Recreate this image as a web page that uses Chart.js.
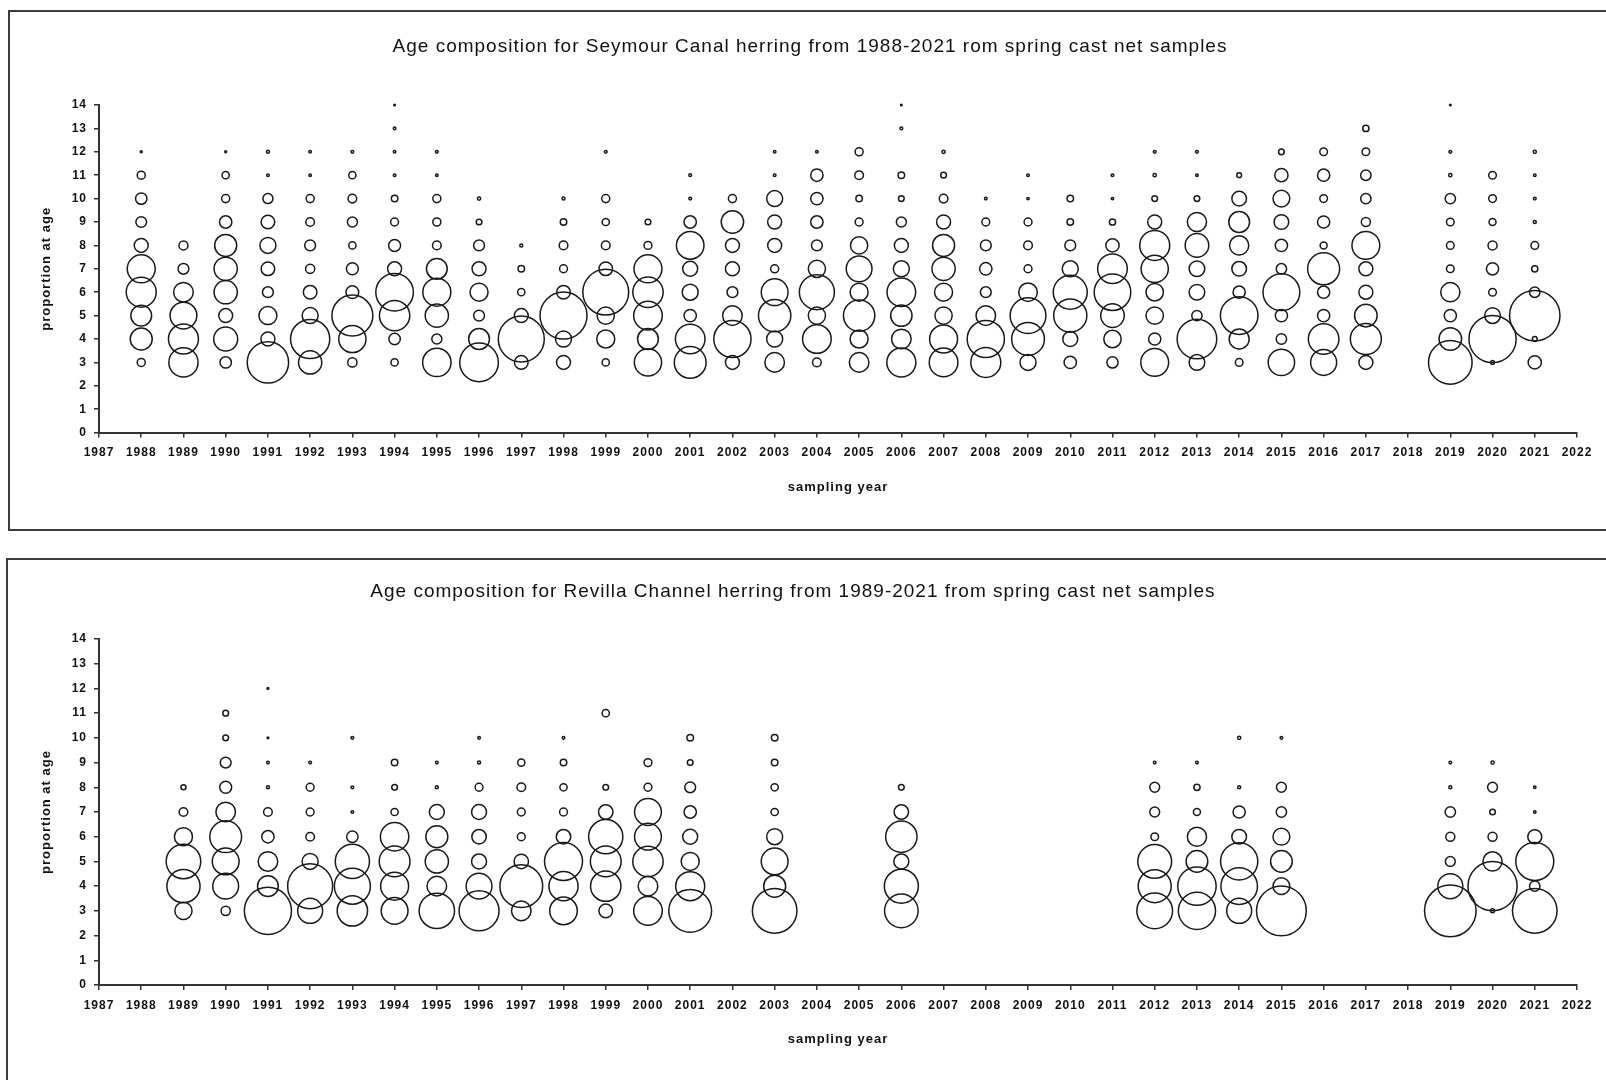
<!DOCTYPE html>
<html lang="en">
<head>
<meta charset="UTF-8">
<title>Age composition - Seymour Canal and Revilla Channel herring</title>
<script src="https://cdn.jsdelivr.net/npm/chart.js"></script>
<style>
    html, body { margin: 0; padding: 0; background: #fff; width: 1606px; height: 1080px; overflow: hidden; }
    .frame { position: absolute; border: 2px solid #3c3c3c; border-right: none; }
    #frameTop { left: 8px; top: 10px; width: 1620px; height: 517px; }
    #frameBottom { left: 6px; top: 558px; width: 1620px; height: 600px; }
    .titulo { position: absolute; width: 1200px; text-align: center; color: #111;
              font: 19px "Liberation Sans", Arial, sans-serif; letter-spacing: 1px; line-height: 22px; }
    canvas { position: absolute; left: 0; }
</style>
</head>
<body>
    <div class="frame" id="frameTop"></div>
    <div class="frame" id="frameBottom"></div>

    <canvas id="chartSeymour" width="1606" height="545" style="top:0px"></canvas>
    <canvas id="chartRevilla" width="1606" height="535" style="top:545px"></canvas>

    <div class="titulo" style="left:210px; top:35px">Age composition for Seymour Canal herring from 1988-2021 rom spring cast net samples</div>
    <div class="titulo" style="left:193px; top:580px">Age composition for Revilla Channel herring from 1989-2021 from spring cast net samples</div>

<script>
    // ages on the y axis, one column per age in the tables below
    const ages = [3, 4, 5, 6, 7, 8, 9, 10, 11, 12, 13, 14];
    const yearTicks = [1987, 2022];

    // Seymour Canal: proportion at age (%) per sampling year
    const seymourYears = [1988, 1989, 1990, 1991, 1992, 1993, 1994, 1995, 1996, 1997, 1998, 1999, 2000,
        2001, 2002, 2003, 2004, 2005, 2006, 2007, 2008, 2009, 2010, 2011, 2012, 2013, 2014, 2015, 2016,
        2017, 2019, 2020, 2021];
    const seymourProps = [
        [1.97, 14.9, 13.3, 27.7, 24.1, 6.0, 3.5, 4.0, 2.0, 0.12, 0, 0],
        [26.2, 27.7, 22.1, 11.8, 3.6, 2.5, 0, 0, 0, 0, 0, 0],
        [4.0, 17.7, 6.0, 16.6, 16.6, 14.9, 4.7, 2.0, 1.6, 0.12, 0, 0],
        [52.7, 6.0, 10.0, 3.6, 5.7, 7.9, 5.7, 3.1, 0.21, 0.28, 0, 0],
        [16.6, 47.3, 7.9, 5.7, 2.6, 3.6, 2.3, 2.0, 0.18, 0.21, 0, 0],
        [2.6, 22.8, 51.7, 5.0, 4.4, 1.6, 3.1, 2.3, 1.6, 0.24, 0, 0],
        [1.6, 4.0, 28.4, 43.5, 6.0, 4.4, 1.9, 1.3, 0.21, 0.21, 0.21, 0.08],
        [24.8, 3.1, 16.6, 24.1, 13.3, 2.3, 2.0, 2.0, 0.18, 0.24, 0, 0],
        [45.9, 13.3, 3.6, 10.0, 6.0, 3.6, 1.0, 0.32, 0, 0, 0, 0],
        [5.7, 65.1, 6.0, 1.6, 1.3, 0.28, 0, 0, 0, 0, 0, 0],
        [6.0, 7.9, 68.0, 5.7, 1.9, 2.3, 1.3, 0.28, 0, 0, 0, 0],
        [1.6, 10.0, 9.1, 64.6, 5.7, 2.3, 1.6, 2.0, 0, 0.24, 0, 0],
        [22.8, 13.3, 25.2, 28.4, 24.1, 1.9, 1.0, 0, 0, 0, 0, 0],
        [31.1, 27.0, 4.7, 7.9, 6.9, 23.4, 4.7, 0.24, 0.24, 0, 0, 0],
        [6.0, 42.6, 11.8, 3.6, 6.0, 6.0, 15.4, 2.0, 0, 0, 0, 0],
        [11.8, 7.9, 32.3, 22.1, 2.0, 6.0, 6.0, 7.9, 0.21, 0.21, 0, 0],
        [2.3, 25.2, 9.1, 37.7, 9.1, 3.6, 4.7, 4.7, 4.7, 0.21, 0, 0],
        [11.8, 10.0, 30.3, 10.0, 20.5, 9.1, 1.9, 1.3, 2.3, 2.0, 0, 0],
        [25.9, 11.8, 14.1, 25.2, 7.9, 6.0, 3.1, 1.0, 1.3, 0, 0.24, 0.08],
        [25.2, 24.1, 9.1, 10.0, 16.6, 14.9, 6.0, 2.3, 1.0, 0.32, 0, 0],
        [27.7, 42.6, 11.8, 3.6, 4.7, 3.6, 1.9, 0.21, 0, 0, 0, 0],
        [7.9, 33.1, 39.4, 10.6, 1.9, 2.3, 1.9, 0.18, 0.21, 0, 0, 0],
        [4.7, 6.9, 33.9, 35.6, 7.9, 3.6, 1.3, 1.3, 0, 0, 0, 0],
        [3.9, 9.3, 17.1, 41.2, 27.0, 5.4, 1.2, 0.18, 0.21, 0, 0, 0],
        [23.8, 4.6, 9.3, 9.3, 22.8, 27.7, 6.0, 1.0, 0.32, 0.24, 0, 0],
        [7.5, 48.3, 3.3, 7.5, 7.5, 17.1, 11.3, 1.0, 0.18, 0.24, 0, 0],
        [1.8, 12.3, 43.5, 4.6, 6.6, 11.3, 13.3, 6.6, 0.71, 0, 0, 0],
        [21.4, 3.3, 4.6, 41.7, 3.3, 4.6, 6.6, 8.7, 5.4, 1.0, 0, 0],
        [20.8, 28.8, 4.6, 4.6, 31.5, 1.5, 4.6, 1.8, 4.6, 1.8, 0, 0],
        [6.0, 29.6, 15.7, 6.0, 6.0, 23.8, 2.5, 3.3, 3.3, 1.8, 1.2, 0],
        [58.5, 15.7, 4.6, 11.3, 1.8, 1.8, 1.8, 3.3, 0.32, 0.24, 0, 0.08],
        [0.40, 68.6, 7.5, 1.8, 4.6, 2.5, 1.5, 1.8, 1.8, 0, 0, 0],
        [5.4, 0.71, 78.2, 3.3, 1.2, 1.8, 0.28, 0.24, 0.21, 0.32, 0, 0]
    ];

    // Revilla Channel: proportion at age (%) per sampling year
    const revillaYears = [1989, 1990, 1991, 1992, 1993, 1994, 1995, 1996, 1997, 1998, 1999, 2000, 2001,
        2003, 2006, 2012, 2013, 2014, 2015, 2019, 2020, 2021];
    const revillaProps = [
        [9.1, 33.9, 36.8, 10.0, 2.3, 0.77, 0, 0, 0, 0, 0, 0],
        [2.6, 20.5, 22.1, 31.1, 11.8, 4.4, 3.6, 1.0, 1.0, 0, 0, 0],
        [68.6, 13.3, 11.8, 4.7, 2.3, 0.28, 0.21, 0.10, 0, 0.10, 0, 0],
        [19.2, 62.3, 7.9, 2.3, 1.9, 1.9, 0.24, 0, 0, 0, 0, 0],
        [28.4, 39.9, 36.0, 4.0, 0.21, 0.24, 0, 0.24, 0, 0, 0, 0],
        [22.1, 24.1, 29.2, 24.8, 1.6, 1.0, 1.3, 0, 0, 0, 0, 0],
        [38.6, 11.8, 16.6, 14.9, 6.9, 0.28, 0.21, 0, 0, 0, 0, 0],
        [49.2, 20.5, 6.9, 6.4, 6.9, 1.9, 0.28, 0.21, 0, 0, 0, 0],
        [11.8, 56.4, 6.4, 1.9, 1.9, 2.3, 1.6, 0, 0, 0, 0, 0],
        [23.4, 26.2, 44.4, 6.4, 1.9, 1.6, 1.3, 0.21, 0, 0, 0, 0],
        [5.7, 28.4, 29.2, 36.0, 6.4, 1.0, 0, 0, 1.6, 0, 0, 0],
        [25.2, 11.8, 28.4, 22.1, 22.1, 1.9, 1.9, 0, 0, 0, 0, 0],
        [56.4, 25.9, 10.0, 6.9, 4.7, 3.6, 1.0, 1.3, 0, 0, 0, 0],
        [61.2, 14.9, 22.1, 7.9, 1.6, 1.6, 1.3, 1.3, 0, 0, 0, 0],
        [34.7, 35.6, 6.9, 30.3, 6.4, 1.0, 0, 0, 0, 0, 0, 0],
        [39.4, 33.5, 35.2, 1.8, 3.0, 3.0, 0.21, 0, 0, 0, 0, 0],
        [42.6, 45.4, 14.4, 11.3, 1.5, 1.2, 0.21, 0, 0, 0, 0, 0],
        [19.2, 41.2, 42.6, 6.6, 4.6, 0.28, 0, 0.32, 0, 0, 0, 0],
        [76.3, 8.7, 14.4, 8.7, 3.3, 3.0, 0, 0.21, 0, 0, 0, 0],
        [81.9, 19.2, 3.0, 2.5, 3.3, 0.28, 0.21, 0, 0, 0, 0, 0],
        [0.49, 74.5, 11.3, 2.5, 1.0, 3.0, 0.32, 0, 0, 0, 0, 0],
        [61.2, 3.3, 44.4, 6.0, 0.18, 0.18, 0, 0, 0, 0, 0, 0]
    ];
</script>

<script>
    Chart.defaults.font.family = '"Liberation Sans", Arial, sans-serif';
    Chart.defaults.color = '#111';

    // bubble area follows the proportion (like the Excel original)
    function bubbleRadius(p) {
        return 28.5 * Math.sqrt(p / 100);
    }

    function montarPontos(years, props) {
        let pontos = [];
        for (let i = 0; i < years.length; i++) {
            for (let j = 0; j < ages.length; j++) {
                let p = props[i][j];
                if (p > 0) {
                    pontos.push({ x: years[i], y: ages[j], r: bubbleRadius(p) });
                }
            }
        }
        return pontos;
    }

    // the old bitmap font is wide, so open up the letters a bit
    const espacamento = {
        id: 'espacamento',
        beforeLayout(chart) { chart.ctx.letterSpacing = '1px'; },
        beforeDraw(chart) { chart.ctx.letterSpacing = '1px'; }
    };

    function criarGrafico(canvasId, years, props, padTop, padBottom) {
        const eixo = {
            border: { display: true, color: '#333', width: 2 },
            grid: { display: true, drawOnChartArea: false, drawTicks: true, tickLength: 5, color: '#333', lineWidth: 1.5 }
        };

        const config = {
            type: 'bubble',
            data: {
                datasets: [{
                    data: montarPontos(years, props),
                    borderColor: '#1a1a1a',
                    backgroundColor: 'rgba(0,0,0,0)',
                    borderWidth: 1.5,
                    hoverRadius: 0,
                    clip: false
                }]
            },
            options: {
                responsive: false,
                animation: false,
                events: [],
                layout: { padding: { left: 0, right: 29, top: padTop, bottom: padBottom } },
                plugins: { legend: { display: false }, tooltip: { enabled: false }, title: { display: false } },
                scales: {
                    x: Object.assign({
                        type: 'linear',
                        min: yearTicks[0],
                        max: yearTicks[1],
                        ticks: { stepSize: 1, autoSkip: false, maxRotation: 0, padding: 8,
                                 font: { size: 12, weight: 'bold' }, callback: (v) => String(v) },
                        title: { display: true, text: 'sampling year', font: { size: 13, weight: 'bold' },
                                 padding: { top: 0, bottom: 7.8 } },
                        afterFit: (s) => { s.height = 70; }
                    }, eixo),
                    y: Object.assign({
                        min: 0,
                        max: 14,
                        ticks: { stepSize: 1, padding: 7, font: { size: 12, weight: 'bold' } },
                        title: { display: true, text: 'proportion at age', font: { size: 13, weight: 'bold' },
                                 padding: { top: 39, bottom: 0 } },
                        afterFit: (s) => { s.width = 99; }
                    }, eixo)
                }
            },
            plugins: [espacamento]
        };

        return new Chart(document.getElementById(canvasId), config);
    }

    criarGrafico('chartSeymour', seymourYears, seymourProps, 105, 42.4);
    criarGrafico('chartRevilla', revillaYears, revillaProps, 94, 25);
</script>
</body>
</html>
